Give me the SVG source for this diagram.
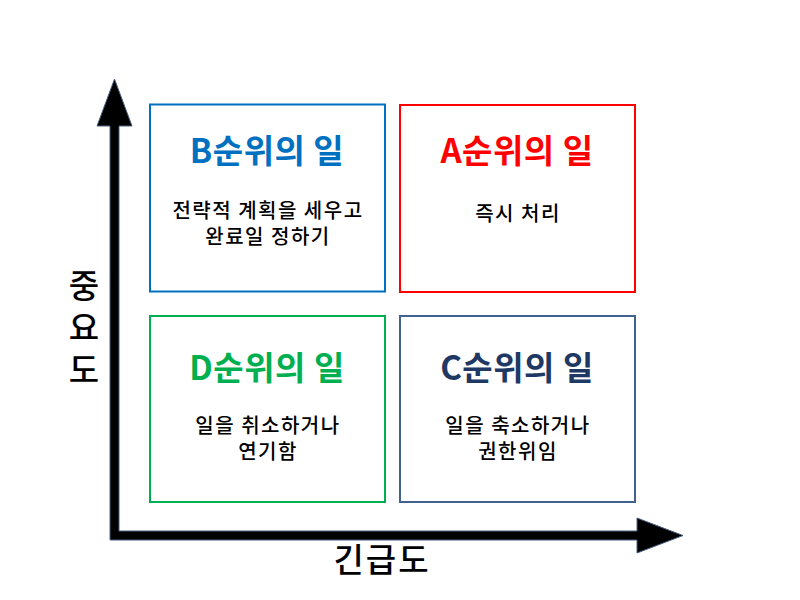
<svg xmlns="http://www.w3.org/2000/svg" width="800" height="600" viewBox="0 0 800 600">
<style>
text{font-family:"Noto Sans CJK KR","Noto Sans",sans-serif;text-anchor:middle}
.box{fill:#fff;stroke-width:2}
.title{font-size:33px;font-weight:bold;letter-spacing:0.5px}
.body{font-size:20px;font-weight:500;fill:#000;letter-spacing:1.5px}
.axis{font-size:33px;font-weight:500;fill:#000}
.xl{letter-spacing:2px}
</style>
<rect width="800" height="600" fill="#fff"/>
<g id="connectors">
<polygon points="114.5,79 132,126 119,126 119,531 637,531 637,518 683,535.5 637,553 637,540 110,540 110,126 97,126" fill="#000" stroke="#4A6285" stroke-width="1" stroke-linejoin="miter"/>
</g>
<g id="nodeB">
<rect class="box" x="150" y="104.5" width="235" height="187" stroke="#0070C0"/>
<text class="title" x="267" y="163" fill="#0070C0">B순위의 일</text>
<text class="body" x="268" y="218">전략적 계획을 세우고</text>
<text class="body" x="268" y="244">완료일 정하기</text>
</g>
<g id="nodeA">
<rect class="box" x="400" y="105" width="235" height="187" stroke="#FF0000"/>
<text class="title" x="517" y="163" fill="#FF0000">A순위의 일</text>
<text class="body" x="518" y="221">즉시 처리</text>
</g>
<g id="nodeD">
<rect class="box" x="150" y="316" width="235" height="186" stroke="#00B050"/>
<text class="title" x="267" y="380" fill="#00B050">D순위의 일</text>
<text class="body" x="268" y="433">일을 취소하거나</text>
<text class="body" x="268" y="459">연기함</text>
</g>
<g id="nodeC">
<rect class="box" x="400" y="316" width="235" height="186" stroke="#41618F"/>
<text class="title" x="517" y="380" fill="#203864">C순위의 일</text>
<text class="body" x="518" y="433">일을 축소하거나</text>
<text class="body" x="518" y="459">권한위임</text>
</g>
<g id="labelY">
<text class="axis" x="84" y="298">중</text>
<text class="axis" x="84" y="340">요</text>
<text class="axis" x="84" y="382">도</text>
</g>
<g id="labelX">
<text class="axis xl" x="382" y="572">긴급도</text>
</g>
</svg>
